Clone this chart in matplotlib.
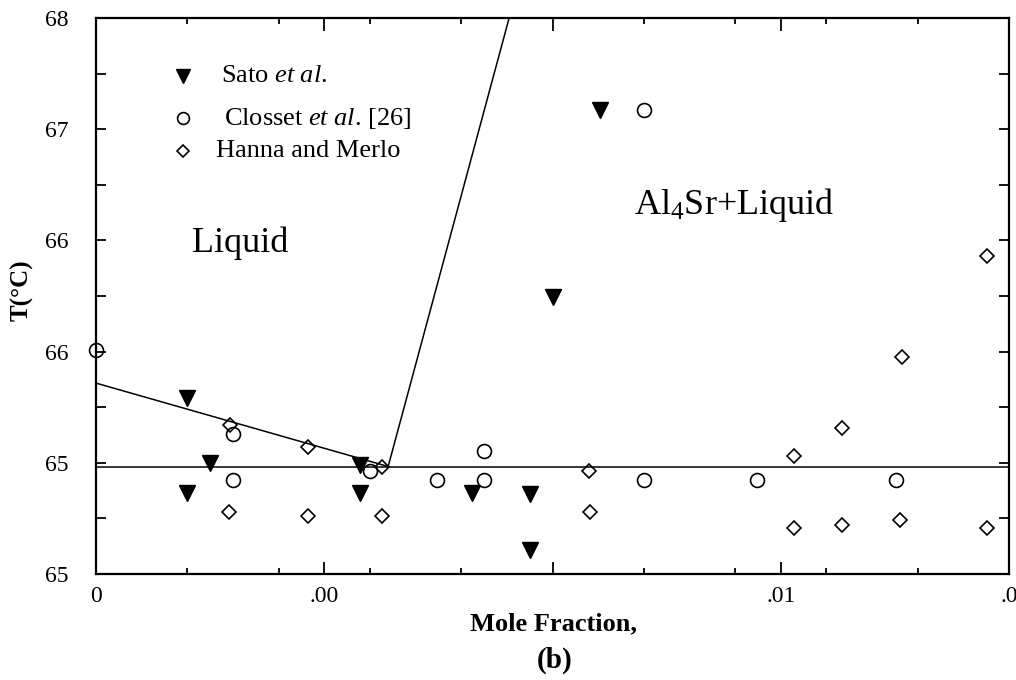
import matplotlib
matplotlib.use("Agg")
import matplotlib.pyplot as plt
import numpy as np

plt.rcParams['font.family'] = ['Liberation Serif', 'DejaVu Serif']
plt.rcParams['mathtext.fontset'] = 'custom'
plt.rcParams['mathtext.rm'] = 'Liberation Serif'
plt.rcParams['mathtext.it'] = 'Liberation Serif:italic'

# ---- data (mole fraction, temperature) ----
sato_x = [0.00199, 0.00250, 0.00199, 0.00578, 0.00578, 0.00823, 0.00950, 0.00950, 0.01000, 0.01104]
sato_y = [659.48, 656.01, 654.39, 655.88, 654.35, 654.37, 654.33, 651.27, 664.96, 675.04]

closset_x = [0.0, 0.00300, 0.00300, 0.00600, 0.00748, 0.00849, 0.00849, 0.01200, 0.01200, 0.01449, 0.01753]
closset_y = [662.09, 657.55, 655.07, 655.57, 655.06, 656.61, 655.06, 655.06, 675.04, 655.06, 655.06]

hanna_x = [0.00294, 0.00291, 0.00465, 0.00465, 0.00626, 0.00626, 0.01081, 0.01082,
           0.01530, 0.01530, 0.01634, 0.01634, 0.01761, 0.01766, 0.01951, 0.01952]
hanna_y = [658.04, 653.36, 656.84, 653.15, 655.76, 653.15, 655.57, 653.37,
           656.37, 652.48, 657.88, 652.66, 652.91, 661.71, 652.46, 667.16]

liquidus_x = [0.0, 0.0064]
liquidus_y = [660.3, 655.8]
solubility_x = [0.0064, 0.00905]
solubility_y = [655.8, 680.0]
eutectic_x = [0.0, 0.02]
eutectic_y = [655.8, 655.8]

xtick_pos = [0.0, 0.005, 0.010, 0.015, 0.020]
xtick_labels = ['0', '.00', '', '.01', '.0']
ytick_pos = [650, 656, 662, 668, 674, 680]
ytick_labels = ['65', '65', '66', '66', '67', '68']

fig = plt.figure(figsize=(10.16, 6.8), dpi=100)
ax = fig.add_axes([96/1016, 1-574/680, (1009-96)/1016, (574-18)/680])

lw = 1.1
ax.plot(liquidus_x, liquidus_y, color='black', lw=lw)
ax.plot(solubility_x, solubility_y, color='black', lw=lw)
ax.plot(eutectic_x, eutectic_y, color='black', lw=lw)

ax.plot(sato_x, sato_y, linestyle='none', marker='v', ms=11, color='black', clip_on=False)
ax.plot(closset_x, closset_y, linestyle='none', marker='o', ms=10, mfc='none',
        mec='black', mew=1.2, clip_on=False)
ax.plot(hanna_x, hanna_y, linestyle='none', marker='D', ms=7.5, mfc='none',
        mec='black', mew=1.2, clip_on=False)

ax.set_xlim(0, 0.02)
ax.set_ylim(650, 680)

ax.set_xticks(xtick_pos)
ax.set_xticklabels(xtick_labels)
ax.set_xticks(np.arange(0.002, 0.0199, 0.002), minor=True)
ax.set_yticks(ytick_pos)
ax.set_yticklabels(ytick_labels)
ax.set_yticks(np.arange(653, 680, 6), minor=True)

ax.tick_params(which='both', direction='in', top=True, right=True, width=1.3)
ax.tick_params(axis='x', which='major', length=9, labelsize=17, pad=9)
ax.tick_params(axis='x', which='minor', length=4)
ax.tick_params(axis='y', which='both', length=7)
ax.tick_params(axis='y', which='major', labelsize=17, pad=20)
for s in ax.spines.values():
    s.set_linewidth(1.6)

# legend (manual)
ax.plot([0.0953], [0.8957], transform=ax.transAxes, marker='v', ms=10.5, color='black', clip_on=False)
ax.plot([0.0953], [0.8201], transform=ax.transAxes, marker='o', ms=8.5, mfc='none', mec='black', mew=1.2)
ax.plot([0.0953], [0.7608], transform=ax.transAxes, marker='D', ms=6.5, mfc='none', mec='black', mew=1.2)
ax.text(0.1369, 0.8957, r'Sato $\mathit{et\ al}$.', transform=ax.transAxes, fontsize=19, va='center')
ax.text(0.1402, 0.8201, r'Closset $\mathit{et\ al}$. [26]', transform=ax.transAxes, fontsize=19, va='center')
ax.text(0.1314, 0.7608, 'Hanna and Merlo', transform=ax.transAxes, fontsize=19, va='center')

ax.text(0.00315, 667.86, 'Liquid', fontsize=26, ha='center', va='center')
ax.text(0.01398, 669.91, r'Al$_\mathrm{4}$Sr+Liquid', fontsize=26, ha='center', va='center')

fig.text(22/1016, 1-290/680, 'T(°C)', rotation=90, fontsize=18, fontweight='bold',
         ha='center', va='center')
fig.text(553/1016, 1-624/680, 'Mole Fraction,', fontsize=19, fontweight='bold',
         ha='center', va='center')
fig.text(555/1016, 1-660/680, '(b)', fontsize=21, fontweight='bold',
         ha='center', va='center')

fig.savefig('out.png', dpi=100)
